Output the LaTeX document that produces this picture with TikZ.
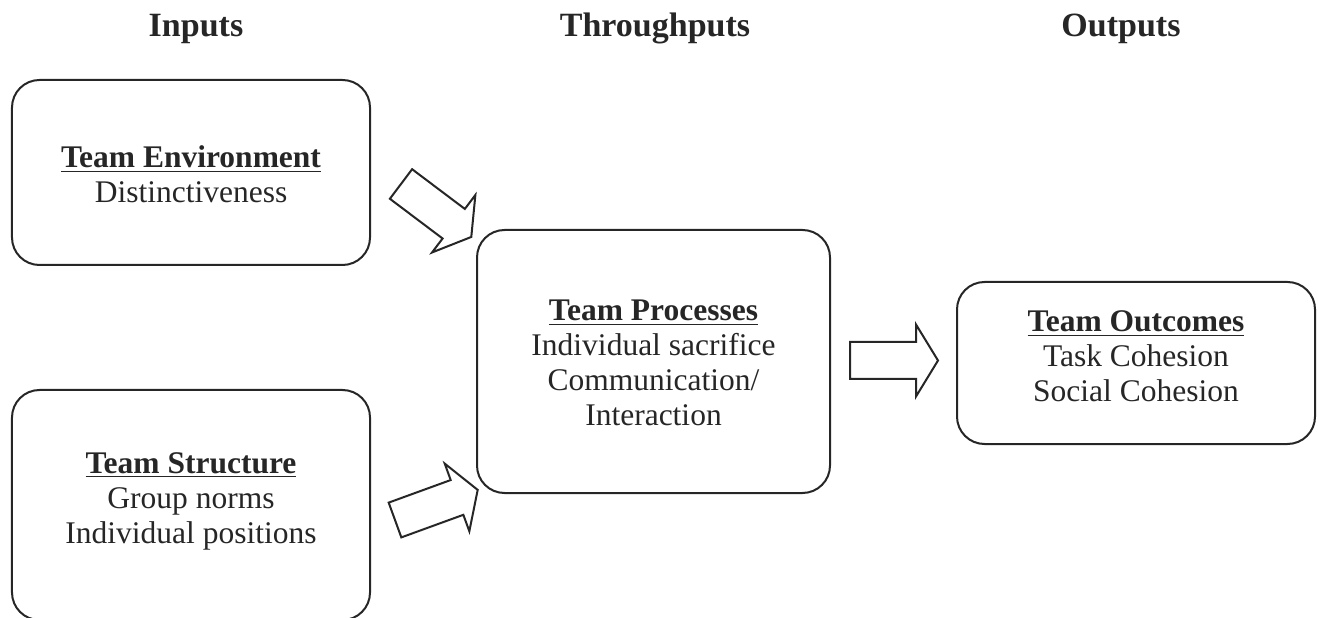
\documentclass[tikz,border=0pt]{standalone}
\usepackage{fontspec}
\setmainfont{Liberation Serif}
\usetikzlibrary{calc}
\def\blockarrow[#1](#2)(#3){\draw[#1,shift={(#2)},rotate=#3] (0,-18.5) -- (66,-18.5) -- (66,-36) -- (88,0) -- (66,36) -- (66,18.5) -- (0,18.5) -- cycle;}

\begin{document}
\begin{tikzpicture}[x=0.4pt,y=-0.4pt,
	box/.style={draw=black!85,line width=0.8pt,rounded corners=11pt,outer sep=0pt},
	boxtext/.style={align=center,text=black!85,font=\fontsize{12.6}{14}\selectfont},
	head/.style={anchor=base,text=black!85,font=\fontsize{13.6}{16}\selectfont\bfseries},
	arrowline/.style={draw=black!85,line width=0.8pt,line join=miter}]
	%%%%% START %%%%%
	\useasboundingbox (0,0) rectangle (1318,618);
	
	\node[head] (inputs) at (196,37) {Inputs};
	\node[head] (throughputs) at (655,37) {Throughputs};
	\node[head] (outputs) at (1121,37) {Outputs};
	
	\node[box,minimum width=143.2pt,minimum height=74pt] (environment) at (191,172.5) {};
	\node[boxtext] (environmenttext) at (191,174) {\underline{\textbf{Team Environment}}\\Distinctiveness};
	
	\node[box,minimum width=143.2pt,minimum height=92pt] (structure) at (191,505) {};
	\node[boxtext] (structuretext) at (191,501) {\underline{\textbf{Team Structure}}\\Group norms\\Individual positions};
	
	\node[box,minimum width=141.2pt,minimum height=105.2pt] (processes) at (653.5,361.5) {};
	\node[boxtext] (processestext) at (653.5,363) {\underline{\textbf{Team Processes}}\\Individual sacrifice\\Communication/\\Interaction};
	
	\node[box,minimum width=143.2pt,minimum height=64.8pt] (outcomes) at (1136,363) {};
	\node[boxtext] (outcomestext) at (1136,356) {\underline{\textbf{Team Outcomes}}\\Task Cohesion\\Social Cohesion};
	
	\blockarrow[arrowline](401,184)(-37)
	\blockarrow[arrowline](395,520)(20)
	\blockarrow[arrowline](850,360.5)(0)
	%%%%% END %%%%%
\end{tikzpicture}
\end{document}
